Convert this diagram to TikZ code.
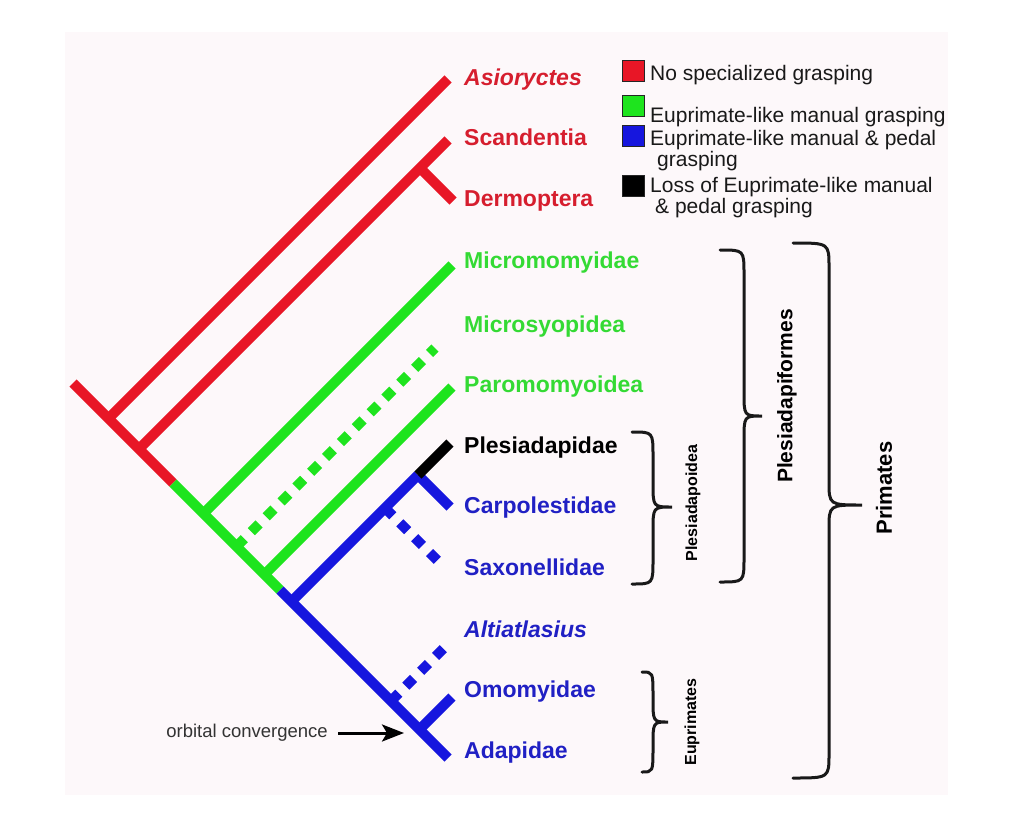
\documentclass[tikz,border=0pt]{standalone}
\usepackage{fontspec}
\setmainfont{Liberation Sans}
\usetikzlibrary{arrows.meta}
\definecolor{tred}{RGB}{232,22,38}
\definecolor{tgreen}{RGB}{30,228,30}
\definecolor{tblue}{RGB}{22,22,222}
\definecolor{txred}{RGB}{214,30,46}
\definecolor{txgreen}{RGB}{52,218,52}
\definecolor{txblue}{RGB}{32,32,196}
\definecolor{panel}{RGB}{253,248,250}
\definecolor{legtext}{RGB}{25,25,25}
\newcommand{\mybrace}[6]{%
  \draw[bracestyle] (#1,#4) .. controls (#2,#4) .. (#2,{#4+24}) -- (#2,{#5-24})
    .. controls (#2,#5) .. (#3,#5) .. controls (#2,#5) .. (#2,{#5+24})
    -- (#2,{#6-24}) .. controls (#2,#6) .. (#1,#6);}
\tikzset{
  br/.style={line width=10pt},
  dsh/.style={line width=10pt, dash pattern=on 11pt off 10pt},
  lab/.style={anchor=base west, inner sep=0pt, font=\bfseries\fontsize{23}{23}\selectfont},
  leg/.style={anchor=base west, inner sep=0pt, text=legtext, font=\fontsize{21}{21}\selectfont},
  sq/.style={minimum width=22pt, minimum height=21pt, inner sep=0pt, draw=black!85, line width=1.5pt},
  rot/.style={rotate=90, inner sep=0pt, font=\bfseries},
  bracestyle/.style={line width=3pt, black!90, line cap=round},
}
\begin{document}
\begin{tikzpicture}[x=1pt, y=-1pt]
\useasboundingbox (0,0) rectangle (1023,817);
\fill[panel] (65,32) rectangle (948,795);

% coordinates of the tree
\coordinate (root) at (73,383);
\coordinate (s1) at (173,483);
\coordinate (s2) at (280,590);
\coordinate (tipAd) at (448,758);
\coordinate (jA) at (108.5,418.5);  \coordinate (tipA) at (448,79);
\coordinate (jS) at (139,449);      \coordinate (tipS) at (448,140);
\coordinate (jD) at (420,168);      \coordinate (tipD) at (453,201);
\coordinate (jMi) at (203.5,513.5); \coordinate (tipMi) at (452,265);
\coordinate (jMs) at (236.5,546.5); \coordinate (tipMs) at (435,348);
\coordinate (jP) at (264.5,574.5);  \coordinate (tipP) at (452,387);
\coordinate (jB) at (291.5,601.5);  \coordinate (jC) at (418,475);
\coordinate (tipPl) at (450,443);   \coordinate (tipC) at (450,507);
\coordinate (jSx) at (385,508);     \coordinate (tipSx) at (444,567);
\coordinate (jAl) at (391,701);     \coordinate (tipAl) at (447,645);
\coordinate (jO) at (419.5,729.5);  \coordinate (tipO) at (452,697);
\coordinate (oc) at (404,733);

% branches
\draw[br, tred] (jA) -- (tipA);
\draw[br, tred] (jS) -- (tipS);
\draw[br, tred] (jD) -- (tipD);
\draw[br, tgreen] (jMi) -- (tipMi);
\draw[dsh, tgreen] (jMs) -- (tipMs);
\draw[br, tgreen] (jP) -- (tipP);
\draw[br, tblue] (jB) -- (jC);
\draw[br, tblue] (jC) -- (tipC);
\draw[br, black] (jC) -- (tipPl);
\draw[dsh, tblue] (jSx) -- (tipSx);
\draw[dsh, tblue] (jAl) -- (tipAl);
\draw[br, tblue] (jO) -- (tipO);
% spine
\draw[br, tred] (root) -- (s1);
\draw[br, tgreen] (s1) -- (s2);
\draw[br, tblue] (s2) -- (tipAd);

% taxon labels
\node[lab, text=txred] (asi) at (464,85) {\itshape Asioryctes};
\node[lab, text=txred] (sca) at (464,145) {Scandentia};
\node[lab, text=txred] (der) at (464,206) {Dermoptera};
\node[lab, text=txgreen] (mic) at (464,268) {Micromomyidae};
\node[lab, text=txgreen] (mis) at (464,332) {Microsyopidea};
\node[lab, text=txgreen] (par) at (464,392) {Paromomyoidea};
\node[lab, text=black] (ple) at (464,453) {Plesiadapidae};
\node[lab, text=txblue] (car) at (464,513) {Carpolestidae};
\node[lab, text=txblue] (sax) at (464,575) {Saxonellidae};
\node[lab, text=txblue] (alt) at (464,637) {\itshape Altiatlasius};
\node[lab, text=txblue] (omo) at (464,697) {Omomyidae};
\node[lab, text=txblue] (ada) at (464,758) {Adapidae};

% orbital convergence
\node[anchor=east, inner sep=0pt, text=black!80, font=\fontsize{18.5}{18.5}\selectfont] (orb) at (328,733) {orbital convergence};
\draw[line width=3pt, -{Stealth[length=22pt, width=17pt, inset=5pt]}] (orb.east) ++(10,0) -- (oc);

% legend
\node[sq, fill=tred] (q1) at (633.5,71) {};
\node[sq, fill=tgreen] (q2) at (633.5,106) {};
\node[sq, fill=tblue] (q3) at (633.5,136) {};
\node[sq, fill=black] (q4) at (633.5,186) {};
\node[leg] (l1) at (650,80) {No specialized grasping};
\node[leg] (l2) at (650,122) {Euprimate-like manual grasping};
\node[leg] (l3) at (650,145) {Euprimate-like manual \& pedal};
\node[leg] (l3b) at (657,166) {grasping};
\node[leg] (l4) at (650,192) {Loss of Euprimate-like manual};
\node[leg] (l4b) at (655,213) {\& pedal grasping};

% braces and group labels
\mybrace{632}{653}{672}{432}{507}{584}
\node[rot, font=\bfseries\fontsize{16}{16}\selectfont] (gpo) at (693,503) {Plesiadapoidea};
\mybrace{642}{653}{668}{672}{722}{772}
\node[rot, font=\bfseries\fontsize{16}{16}\selectfont] (geu) at (692,722) {Euprimates};
\mybrace{720}{744}{762}{250}{416}{582}
\node[rot, font=\bfseries\fontsize{21}{21}\selectfont] (gpf) at (787,396) {Plesiadapiformes};
\mybrace{793}{829}{862}{243}{505}{778}
\node[rot, font=\bfseries\fontsize{22}{22}\selectfont] (gpr) at (884,488) {Primates};
\end{tikzpicture}
\end{document}
